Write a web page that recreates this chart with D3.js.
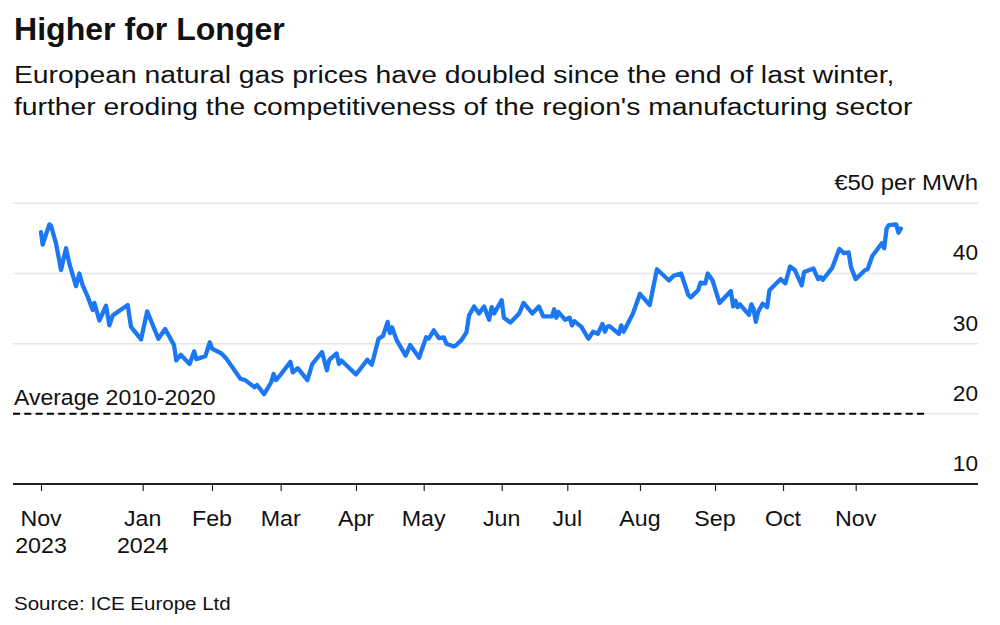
<!DOCTYPE html>
<html>
<head>
<meta charset="utf-8">
<script src="https://cdn.jsdelivr.net/npm/d3@7"></script>
<style>
  html, body { margin: 0; padding: 0; background: #fff; }
  svg { display: block; font-family: "Liberation Sans", Arial, Helvetica, sans-serif; }
</style>
</head>
<body>
<svg id="chart" width="1000" height="625"></svg>
<script>
// ---------------- DATA ----------------
const title = "Higher for Longer";
const subtitleLines = [
  "European natural gas prices have doubled since the end of last winter,",
  "further eroding the competitiveness of the region's manufacturing sector"
];
const source = "Source: ICE Europe Ltd";
const unitLabel = "€50 per MWh";
const averageLabel = "Average 2010-2020";
const averageValue = 20;

const dates = [
  "2023-11-01","2023-11-02","2023-11-06","2023-11-07","2023-11-10","2023-11-13","2023-11-16","2023-11-18",
  "2023-11-22","2023-11-24","2023-11-26","2023-11-29","2023-12-02","2023-12-03","2023-12-06","2023-12-10",
  "2023-12-12","2023-12-14","2023-12-18","2023-12-23","2023-12-25","2023-12-31",
  "2024-01-03","2024-01-08","2024-01-11","2024-01-15","2024-01-16","2024-01-18","2024-01-22","2024-01-24",
  "2024-01-25","2024-01-29","2024-01-31",
  "2024-02-01","2024-02-05","2024-02-07","2024-02-13","2024-02-15","2024-02-19","2024-02-20","2024-02-23",
  "2024-02-26","2024-02-27","2024-02-28",
  "2024-03-01","2024-03-05","2024-03-06","2024-03-08","2024-03-12","2024-03-14","2024-03-18","2024-03-20",
  "2024-03-21","2024-03-24","2024-03-25","2024-03-26",
  "2024-04-01","2024-04-06","2024-04-08","2024-04-11","2024-04-13","2024-04-15","2024-04-16","2024-04-17",
  "2024-04-19","2024-04-23","2024-04-25","2024-04-29","2024-04-30",
  "2024-05-02","2024-05-03","2024-05-05","2024-05-07","2024-05-09","2024-05-10","2024-05-13","2024-05-14",
  "2024-05-16","2024-05-18","2024-05-19","2024-05-21","2024-05-23","2024-05-25","2024-05-27","2024-05-28",
  "2024-05-29",
  "2024-06-01","2024-06-02","2024-06-05","2024-06-09","2024-06-11","2024-06-15","2024-06-18","2024-06-20",
  "2024-06-24","2024-06-25","2024-06-26","2024-06-27","2024-06-30",
  "2024-07-02","2024-07-03","2024-07-04","2024-07-07","2024-07-10","2024-07-12","2024-07-14","2024-07-16",
  "2024-07-17","2024-07-18","2024-07-19","2024-07-23","2024-07-24","2024-07-25","2024-07-29",
  "2024-08-01","2024-08-05","2024-08-08","2024-08-13","2024-08-15","2024-08-18","2024-08-21","2024-08-22",
  "2024-08-25","2024-08-26","2024-08-28","2024-08-29","2024-08-31",
  "2024-09-03","2024-09-08","2024-09-09","2024-09-10","2024-09-11","2024-09-12","2024-09-16","2024-09-17",
  "2024-09-18","2024-09-19","2024-09-20","2024-09-22","2024-09-24","2024-09-25","2024-09-30",
  "2024-10-02","2024-10-04","2024-10-06","2024-10-09","2024-10-10","2024-10-14","2024-10-16","2024-10-17",
  "2024-10-18","2024-10-22","2024-10-25","2024-10-27","2024-10-29","2024-10-30",
  "2024-11-01","2024-11-05","2024-11-06","2024-11-08","2024-11-12","2024-11-13","2024-11-14","2024-11-15",
  "2024-11-18","2024-11-19","2024-11-20"
];
const prices = [
  45.9,44.1,47.0,46.8,44.3,40.5,43.6,41.4,
  38.2,40.0,38.3,36.7,34.8,35.8,33.3,35.4,
  32.6,34.0,34.7,35.5,32.4,30.6,
  34.6,30.7,32.1,29.8,27.6,28.4,27.1,28.9,
  27.8,28.2,30.2,
  29.3,28.6,27.9,25.0,24.8,23.8,24.1,22.8,
  24.5,25.7,24.8,
  25.6,27.4,25.9,26.5,24.8,27.1,28.8,26.2,
  27.7,28.6,27.1,27.6,
  25.6,27.7,27.0,30.7,31.1,33.1,31.5,32.3,
  30.5,28.3,29.8,28.0,29.0,
  30.9,30.7,31.9,30.8,30.9,30.0,29.6,29.8,
  30.5,31.6,34.0,35.3,34.3,35.3,33.4,35.2,
  34.3,
  36.2,33.7,33.0,34.3,35.8,34.3,35.3,33.9,
  33.9,34.9,33.7,34.5,33.4,
  33.7,32.6,33.2,32.4,30.7,31.7,31.4,32.8,
  31.7,32.4,32.5,31.4,32.6,31.7,34.3,
  37.1,35.5,40.6,39.0,39.7,40.0,36.9,36.6,
  37.6,38.7,38.6,40.0,39.0,
  35.8,37.5,35.3,36.1,35.2,35.6,34.1,35.6,
  35.0,33.1,34.5,35.7,35.2,37.6,39.2,
  38.6,41.0,40.5,38.3,40.2,40.7,39.2,39.5,
  39.1,40.8,43.5,42.9,43.0,40.9,
  39.2,40.5,40.6,42.5,44.3,43.6,46.4,46.9,
  47.0,45.8,46.4
];

const yTicks = [10, 20, 30, 40, 50];
const yTickLabels = ["10", "20", "30", "40", ""];
const monthTicks = ["2023-11-01","2024-01-01","2024-02-01","2024-03-01","2024-04-01","2024-05-01",
                    "2024-06-01","2024-07-01","2024-08-01","2024-09-01","2024-10-01","2024-11-01"];
const monthLabels = ["Nov","Jan","Feb","Mar","Apr","May","Jun","Jul","Aug","Sep","Oct","Nov"];
const yearLabels  = ["2023","2024","","","","","","","","","",""];

// ---------------- LAYOUT ----------------
const parse = d3.timeParse("%Y-%m-%d");
const plotLeft = 13, plotRight = 978;
// piecewise time axis (month boundaries -> pixel positions as in the original)
const xBreaks = ["2023-11-01","2024-01-01","2024-02-01","2024-03-01","2024-04-01","2024-05-01","2024-06-01",
                 "2024-07-01","2024-08-01","2024-09-01","2024-10-01","2024-11-01","2024-12-01"].map(parse);
const xBreakPos = [41, 142.7, 212, 280.7, 356, 423.7, 501.7, 567.3, 640, 715, 783, 855.7, 927];

const x = d3.scaleTime().domain(xBreaks).range(xBreakPos);
const y = d3.scaleLinear().domain([10, 50]).range([484, 203.3]);

const svg = d3.select("#chart");
const ink = "#111";

// helper: text with a slight horizontal stretch to mimic the wider original typeface
function label(parent, px, py, str, size, sx, anchor, weight) {
  return parent.append("text")
    .attr("transform", `translate(${px},${py}) scale(${sx},1)`)
    .attr("text-anchor", anchor || "start")
    .attr("font-size", size)
    .attr("font-weight", weight || 400)
    .attr("fill", ink)
    .text(str);
}

// title + subtitle
label(svg, 14, 40, title, 31, 1.035, "start", 700);
subtitleLines.forEach((s, i) => label(svg, 14, 83 + i * 32, s, 24.5, 1.155));

// gridlines
svg.append("g").selectAll("line").data(yTicks.filter(v => v > 10)).enter().append("line")
  .attr("x1", plotLeft).attr("x2", plotRight)
  .attr("y1", d => y(d)).attr("y2", d => y(d))
  .attr("stroke", "#e6e6e6").attr("stroke-width", 1.5);

// y labels (above gridlines, right aligned)
const gy = svg.append("g");
yTicks.forEach((v, i) => {
  const isTop = i === yTicks.length - 1;
  label(gy, plotRight, y(v) - 13, isTop ? unitLabel : yTickLabels[i], 22, isTop ? 1.09 : 1.03, "end");
});

// average dashed line
svg.append("line")
  .attr("x1", plotLeft).attr("x2", x(parse("2024-12-01")))
  .attr("y1", y(averageValue)).attr("y2", y(averageValue))
  .attr("stroke", "#000").attr("stroke-width", 2).attr("stroke-dasharray", "7,4.3");
label(svg, 14, y(averageValue) - 9, averageLabel, 21.5, 1.07);

// x axis
const xAxis = d3.axisBottom(x)
  .tickValues(monthTicks.map(parse))
  .tickSize(7).tickPadding(0).tickFormat("");
const gx = svg.append("g").attr("transform", `translate(0,${y(10)})`).call(xAxis);
gx.select(".domain").remove();
gx.selectAll(".tick line").attr("stroke", "#222").attr("stroke-width", 1.2);
svg.append("line").attr("x1", plotLeft).attr("x2", plotRight)
  .attr("y1", y(10)).attr("y2", y(10)).attr("stroke", "#222").attr("stroke-width", 2);

const tickDates = monthTicks.map(parse);
const gl = svg.append("g");
tickDates.forEach((d, i) => {
  label(gl, x(d), 526, monthLabels[i], 21.5, 1.08, "middle");
  if (yearLabels[i]) label(gl, x(d), 553, yearLabels[i], 21.5, 1.08, "middle");
});

// price line
const series = dates.map((d, i) => ({ date: parse(d), value: prices[i] }));
svg.append("path").datum(series)
  .attr("fill", "none").attr("stroke", "#1b78f2").attr("stroke-width", 4.3)
  .attr("stroke-linejoin", "round").attr("stroke-linecap", "round")
  .attr("d", d3.line().x(d => x(d.date)).y(d => y(d.value)));

// source
label(svg, 14, 610, source, 18.5, 1.11);
</script>
</body>
</html>
